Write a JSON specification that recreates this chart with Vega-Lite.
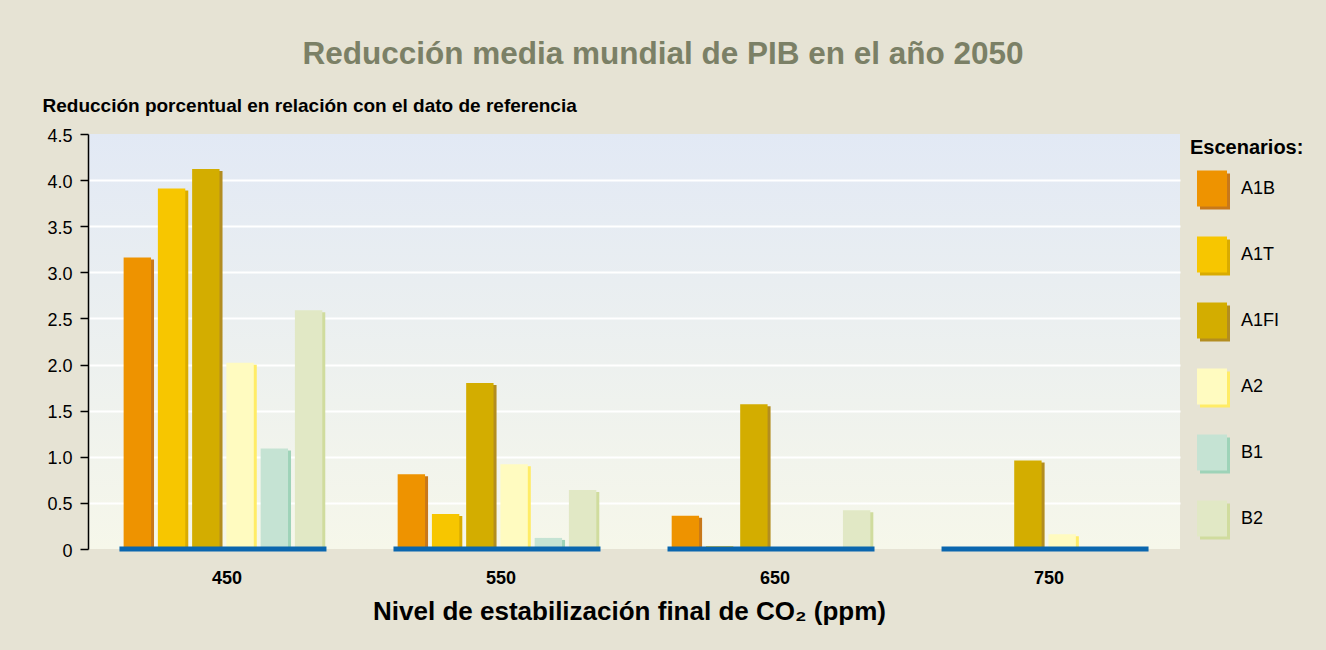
{
  "$schema": "https://vega.github.io/schema/vega-lite/v6.json",
  "width": 1092,
  "height": 415,
  "autosize": {"type": "none"},
  "padding": {"left": 88, "top": 134, "right": 146, "bottom": 101},
  "background": "#E6E3D4",
  "config": {
    "font": "Liberation Sans",
    "view": {"stroke": null}
  },
  "view": {
    "stroke": null,
    "fill": {"gradient": "linear", "x1": 0, "y1": 0, "x2": 0, "y2": 1,
      "stops": [{"offset": 0, "color": "#E2E9F5"}, {"offset": 1, "color": "#F6F7EA"}]}
  },
  "title": {
    "text": "Reducción media mundial de PIB en el año 2050",
    "fontSize": 31.5,
    "fontWeight": "bold",
    "color": "#7B8066",
    "anchor": "middle",
    "frame": "group",
    "baseline": "alphabetic",
    "dx": 29,
    "offset": 1
  },
  "data": {
    "values": [
      {"co2": "450", "esc": "A1B", "v": 3.16},
      {"co2": "450", "esc": "A1T", "v": 3.91},
      {"co2": "450", "esc": "A1FI", "v": 4.12},
      {"co2": "450", "esc": "A2", "v": 2.02},
      {"co2": "450", "esc": "B1", "v": 1.09},
      {"co2": "450", "esc": "B2", "v": 2.59},
      {"co2": "550", "esc": "A1B", "v": 0.81},
      {"co2": "550", "esc": "A1T", "v": 0.38},
      {"co2": "550", "esc": "A1FI", "v": 1.80},
      {"co2": "550", "esc": "A2", "v": 0.92},
      {"co2": "550", "esc": "B1", "v": 0.12},
      {"co2": "550", "esc": "B2", "v": 0.64},
      {"co2": "650", "esc": "A1B", "v": 0.36},
      {"co2": "650", "esc": "A1T", "v": 0.03},
      {"co2": "650", "esc": "A1FI", "v": 1.57},
      {"co2": "650", "esc": "A2", "v": 0},
      {"co2": "650", "esc": "B1", "v": 0},
      {"co2": "650", "esc": "B2", "v": 0.42},
      {"co2": "750", "esc": "A1B", "v": 0},
      {"co2": "750", "esc": "A1T", "v": 0},
      {"co2": "750", "esc": "A1FI", "v": 0.96},
      {"co2": "750", "esc": "A2", "v": 0.16},
      {"co2": "750", "esc": "B1", "v": 0},
      {"co2": "750", "esc": "B2", "v": 0}
    ]
  },
  "encoding": {
    "x": {
      "field": "co2", "type": "nominal", "sort": ["450", "550", "650", "750"],
      "scale": {"paddingInner": 0.25, "paddingOuter": 0.1175},
      "axis": {
        "title": "Nivel de estabilización final de CO₂ (ppm)",
        "titleFontSize": 26, "titleFontWeight": "bold", "titleColor": "#000000",
        "titlePadding": 11, "titleX": 541,
        "labelFontSize": 18, "labelFontWeight": "bold", "labelColor": "#000000",
        "labelAngle": 0, "labelPadding": 20, "labelOffset": 4,
        "domain": false, "ticks": false, "grid": false
      }
    },
    "y": {
      "field": "v", "type": "quantitative",
      "scale": {"domain": [0, 4.5], "nice": false, "zero": true},
      "axis": {
        "title": "Reducción porcentual en relación con el dato de referencia",
        "titleFontSize": 19, "titleFontWeight": "bold", "titleColor": "#000000",
        "titleAngle": 0, "titleAlign": "left", "titleBaseline": "alphabetic",
        "titleX": -46, "titleY": -23,
        "values": [0, 0.5, 1, 1.5, 2, 2.5, 3, 3.5, 4, 4.5],
        "labelExpr": "datum.value === 0 ? '0' : format(datum.value, '.1f')",
        "labelFontSize": 18, "labelColor": "#000000", "labelPadding": 8, "labelOffset": 2,
        "domainColor": "#000000", "domainWidth": 1.5,
        "tickColor": "#000000", "tickSize": 8, "tickWidth": 1.5,
        "grid": true, "gridColor": "#FFFFFF", "gridWidth": 2,
        "gridOpacity": {"condition": {"test": "datum.value === 0 || datum.value === 4.5", "value": 0}, "value": 1}
      }
    }
  },
  "resolve": {"scale": {"xOffset": "independent"}},
  "layer": [
    {
      "mark": {"type": "bar", "yOffset": 2, "y2Offset": 2},
      "encoding": {
        "xOffset": {"field": "esc", "type": "nominal",
          "scale": {"domain": ["A1B", "A1T", "A1FI", "A2", "B1", "B2"], "range": [3, 208.5], "paddingInner": 0.2, "paddingOuter": 0.1}},
        "fill": {"field": "esc", "type": "nominal",
          "sort": ["A1B", "A1T", "A1FI", "A2", "B1", "B2"],
          "scale": {"range": ["#C8781A", "#D9AB00", "#B38D20", "#FFEC66", "#9ED3B8", "#D0DC9E"]},
          "legend": {
            "orient": "none", "legendX": 1105, "legendY": 42.5, "zindex": 0,
            "title": null, "padding": 0,
            "labelExpr": "''", "labelFontSize": 18, "labelOpacity": 0, "labelOffset": 14,
            "symbolType": "M-1,-1.2L1,-1.2L1,1.2L-1,1.2Z", "symbolSize": 900,
            "symbolOffset": 7, "symbolStrokeWidth": 0, "symbolOpacity": 1, "rowPadding": 30
          }
        }
      }
    },
    {
      "mark": {"type": "bar"},
      "encoding": {
        "xOffset": {"field": "esc", "type": "nominal",
          "scale": {"domain": ["A1B", "A1T", "A1FI", "A2", "B1", "B2"], "paddingInner": 0.2, "paddingOuter": 0.1}},
        "color": {"field": "esc", "type": "nominal",
          "scale": {"domain": ["A1B", "A1T", "A1FI", "A2", "B1", "B2"],
            "range": ["#EE9300", "#F7C600", "#D3AD00", "#FFFBC0", "#C5E3D3", "#E1E8C5"]},
          "legend": {
            "orient": "none", "legendX": 1102, "legendY": 3.5, "zindex": 1,
            "title": "Escenarios:", "titleFontSize": 20, "titleFontWeight": "bold", "titleColor": "#000000",
            "titlePadding": 16, "padding": 0,
            "labelFontSize": 18, "labelColor": "#000000", "labelOffset": 14,
            "symbolType": "M-1,-1.2L1,-1.2L1,1.2L-1,1.2Z", "symbolSize": 900,
            "symbolOffset": 7, "symbolStrokeWidth": 0, "symbolOpacity": 1, "rowPadding": 30
          }
        }
      }
    },
    {
      "transform": [{"filter": "datum.esc === 'A1B'"}],
      "mark": {"type": "tick", "orient": "horizontal", "size": 207, "thickness": 5, "color": "#0A66AE", "opacity": 1},
      "encoding": {
        "y": {"datum": 0, "type": "quantitative"}
      }
    }
  ]
}
